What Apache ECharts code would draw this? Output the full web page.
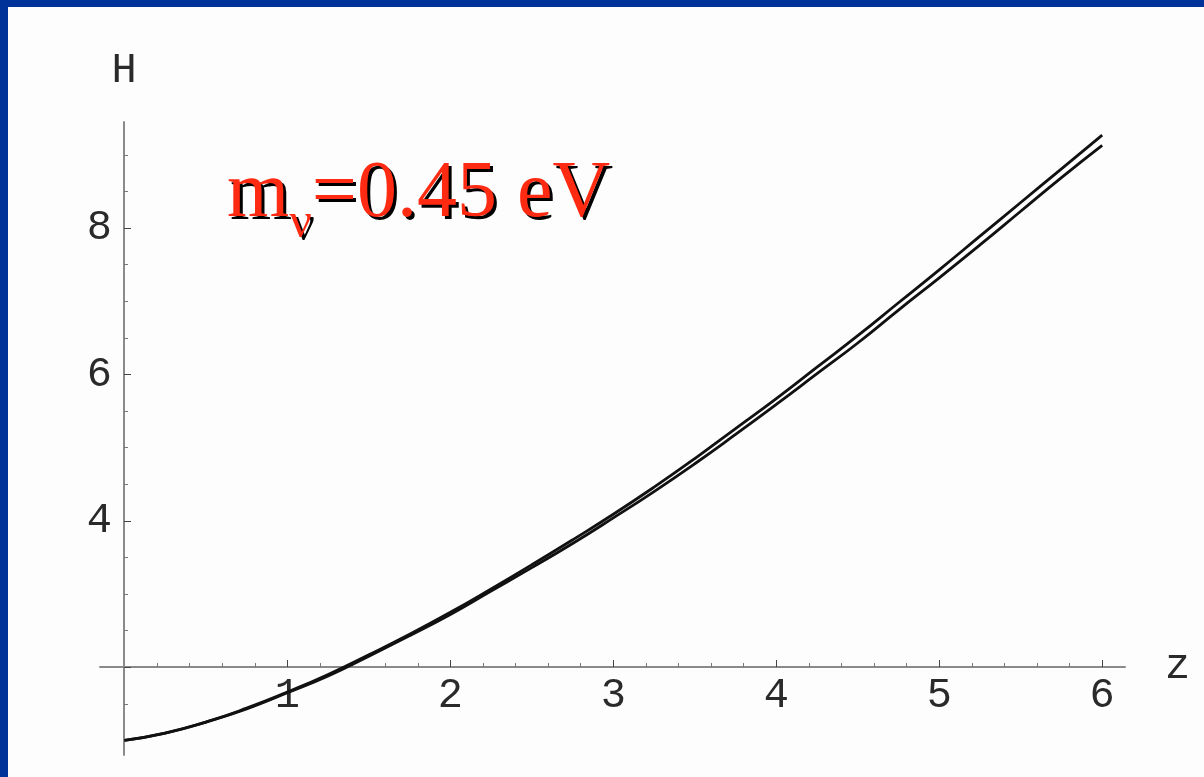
<!DOCTYPE html>
<html lang="en">
<head>
    <meta charset="UTF-8">
    <title>H(z)</title>
    <script src="https://cdn.jsdelivr.net/npm/echarts@6/dist/echarts.min.js"></script>
    <style>
        html, body {
            margin: 0;
            padding: 0;
            background: #003399;
            overflow: hidden;
        }
        #main {
            position: absolute;
            left: 8px;
            top: 7px;
            width: 1196px;
            height: 770px;
            background: #fdfdfd;
        }
    </style>
</head>
<body>
<div id="main"></div>
<script>
    // z values (redshift) and the two H curves
    var zVals = [0, 0.25, 0.5, 0.75, 1, 1.25, 1.5, 1.75, 2, 2.25, 2.5, 2.75, 3,
        3.25, 3.5, 3.75, 4, 4.25, 4.5, 4.75, 5, 5.25, 5.5, 5.75, 6];
    var hUpper = [1.00, 1.10, 1.25, 1.44, 1.66, 1.90, 2.17, 2.45, 2.75, 3.07, 3.40, 3.74, 4.09,
        4.46, 4.85, 5.26, 5.67, 6.10, 6.53, 6.98, 7.43, 7.89, 8.35, 8.81, 9.27];
    var hLower = [1.00, 1.10, 1.25, 1.43, 1.65, 1.88, 2.15, 2.43, 2.72, 3.04, 3.36, 3.69, 4.04,
        4.40, 4.78, 5.18, 5.59, 6.01, 6.43, 6.88, 7.32, 7.77, 8.23, 8.69, 9.13];

    // axis ticks / labels
    var xMajor = [1, 2, 3, 4, 5, 6];
    var xMinor = [0.2, 0.4, 0.6, 0.8, 1.2, 1.4, 1.6, 1.8, 2.2, 2.4, 2.6, 2.8, 3.2, 3.4, 3.6, 3.8,
        4.2, 4.4, 4.6, 4.8, 5.2, 5.4, 5.6, 5.8];
    var yMajor = [2, 4, 6, 8];
    var yLabels = [4, 6, 8];
    var yMinor = [1, 1.5, 2.5, 3, 3.5, 4.5, 5, 5.5, 6.5, 7, 7.5, 8.5, 9];

    var mono = '"Liberation Mono", "DejaVu Sans Mono", monospace';
    var serif = '"Liberation Serif", "DejaVu Serif", serif';
    var lblColor = '#2a2a2a';
    var red = '#ff2a12';
    var label = '{a|m}{b|ν}{a|=0.45 eV}';

    function pairs(xs, ys) {
        return xs.map(function (x, i) { return [x, ys[i]]; });
    }

    // the red annotation with a black drop shadow (drawn twice, shadow first)
    function annot(color, dx, dy) {
        return {
            left: 219 + dx, top: 148 + dy, padding: 0, text: label,
            textStyle: {color: color, fontWeight: 'normal', fontFamily: serif, rich: {
                a: {fontSize: 80, lineHeight: 80, verticalAlign: 'top', color: color,
                    fontWeight: 'normal', fontFamily: serif},
                b: {fontSize: 50, lineHeight: 138, verticalAlign: 'middle', color: color,
                    fontWeight: 'normal', fontFamily: serif}
            }}
        };
    }

    var chart = echarts.init(document.getElementById('main'));

    // x axis sits on H = 2, y axis on z = 0 (Mathematica style crossing)
    var xBase = {
        type: 'value', min: -0.15, max: 6.14, position: 'bottom', offset: -88,
        splitLine: {show: false}
    };
    var yBase = {
        type: 'value', min: 0.8, max: 9.45, position: 'left', offset: -24,
        splitLine: {show: false}
    };

    chart.setOption({
        animation: false,
        title: [annot('#000', 3, 3), annot(red, 0, 0)],
        grid: {left: 92, right: 79, top: 115, bottom: 22, outerBoundsMode: 'none'},
        xAxis: [
            Object.assign({}, xBase, {
                name: 'z', nameLocation: 'end', nameGap: 40,
                nameTextStyle: {fontFamily: mono, fontSize: 42, color: lblColor, verticalAlign: 'middle'},
                axisLine: {onZero: false, lineStyle: {color: '#8a8a8a', width: 2}},
                axisTick: {show: true, inside: true, length: 7, customValues: xMajor,
                    lineStyle: {color: '#444', width: 1}},
                axisLabel: {customValues: xMajor, margin: 8, fontFamily: mono, fontSize: 42, color: lblColor}
            }),
            Object.assign({}, xBase, {
                axisLine: {show: false, onZero: false},
                axisTick: {show: true, inside: true, length: 4, customValues: xMinor,
                    lineStyle: {color: '#777', width: 1}},
                axisLabel: {show: false}
            })
        ],
        yAxis: [
            Object.assign({}, yBase, {
                name: 'H', nameLocation: 'end', nameGap: 30,
                nameTextStyle: {fontFamily: mono, fontSize: 42, color: lblColor},
                axisLine: {onZero: false, lineStyle: {color: '#8a8a8a', width: 2}},
                axisTick: {show: true, inside: true, length: 7, customValues: yMajor,
                    lineStyle: {color: '#444', width: 1}},
                axisLabel: {customValues: yLabels, margin: 12, fontFamily: mono, fontSize: 42, color: lblColor}
            }),
            Object.assign({}, yBase, {
                axisLine: {show: false, onZero: false},
                axisTick: {show: true, inside: true, length: 4, customValues: yMinor,
                    lineStyle: {color: '#777', width: 1}},
                axisLabel: {show: false}
            })
        ],
        series: [
            {
                type: 'line', xAxisIndex: 0, yAxisIndex: 0, data: pairs(zVals, hUpper),
                symbol: 'none', smooth: true, lineStyle: {color: '#111', width: 2.8}
            },
            {
                type: 'line', xAxisIndex: 0, yAxisIndex: 0, data: pairs(zVals, hLower),
                symbol: 'none', smooth: true, lineStyle: {color: '#111', width: 2.8}
            }
        ]
    });
</script>
</body>
</html>
